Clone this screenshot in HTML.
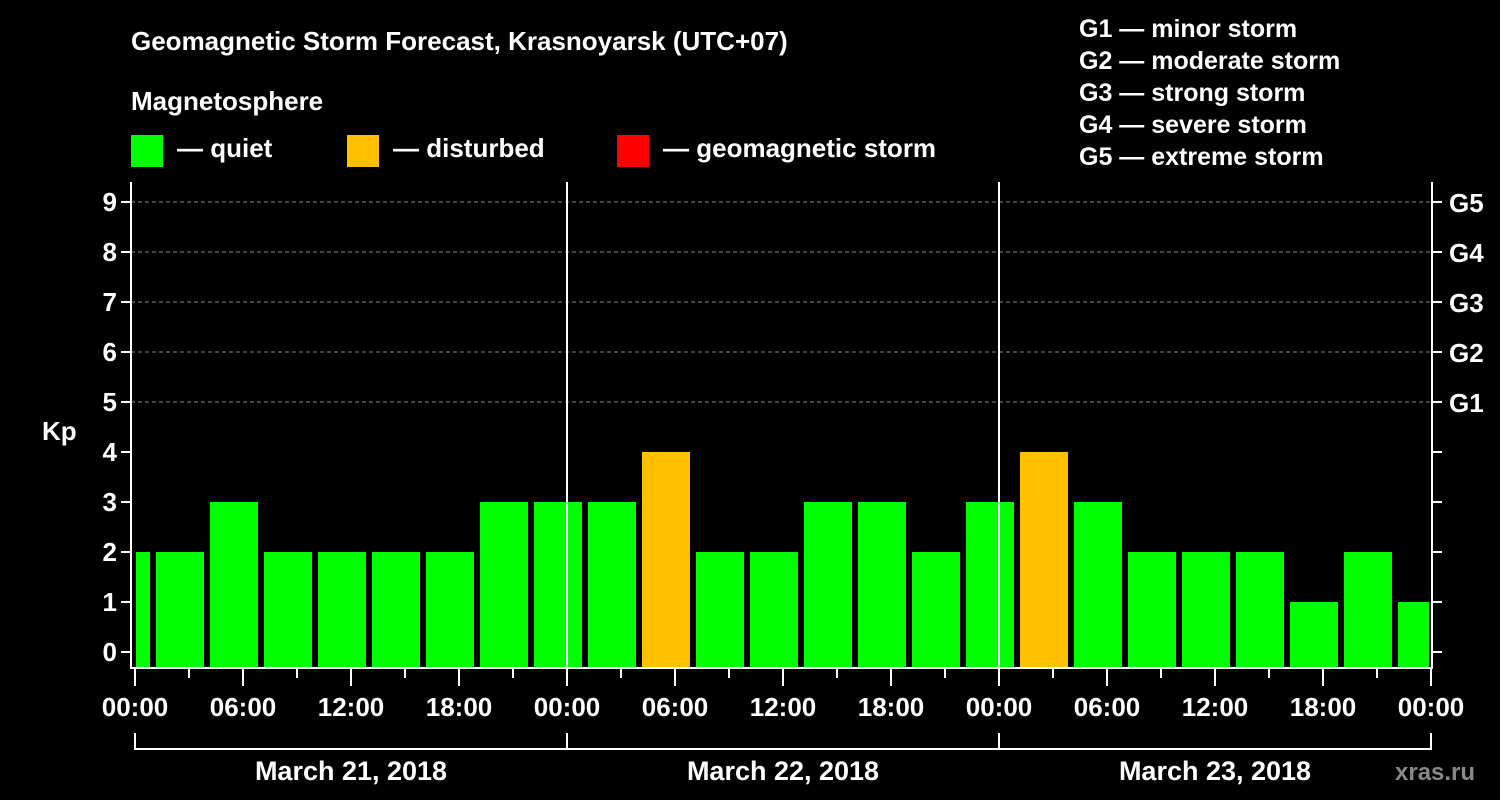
<!DOCTYPE html>
<html><head><meta charset="utf-8"><style>
body{margin:0;background:#000;width:1500px;height:800px;overflow:hidden}
svg{display:block;font-family:"Liberation Sans",Arial,sans-serif;font-weight:bold}
</style></head><body>
<svg id="c" width="1500" height="800" viewBox="0 0 1500 800">
<g fill="#fff" font-size="26">
<text x="131" y="50">Geomagnetic Storm Forecast, Krasnoyarsk (UTC+07)</text>
<text x="131" y="110">Magnetosphere</text>
<rect x="131" y="135" width="32" height="32" fill="#00ff00"/>
<text x="177" y="157">— quiet</text>
<rect x="347" y="135" width="32" height="32" fill="#ffc000"/>
<text x="393" y="157">— disturbed</text>
<rect x="617" y="135" width="32" height="32" fill="#ff0000"/>
<text x="663" y="157">— geomagnetic storm</text>
<g font-size="25">
<text x="1079" y="37">G1 — minor storm</text>
<text x="1079" y="69">G2 — moderate storm</text>
<text x="1079" y="101">G3 — strong storm</text>
<text x="1079" y="133">G4 — severe storm</text>
<text x="1079" y="165">G5 — extreme storm</text>
</g>
<text x="42" y="440">Kp</text>
<text x="1395" y="780" fill="#888" font-size="24">xras.ru</text>
</g>
<g id="plot"></g>
</svg>
<script>
const values=[2,2,3,2,2,2,2,3,3,3,4,2,2,3,3,2,3,4,3,2,2,2,1,2,1];
const yTicks=[0,1,2,3,4,5,6,7,8,9];
const gLabels=["G1","G2","G3","G4","G5"];
const xLabels=["00:00","06:00","12:00","18:00","00:00","06:00","12:00","18:00","00:00","06:00","12:00","18:00","00:00"];
const dates=["March 21, 2018","March 22, 2018","March 23, 2018"];
const NS="http://www.w3.org/2000/svg";
const g=document.getElementById('plot');
const X0=135,PXH=18,Y0=652,PXK=50,BOT=668,TOP=182,RIGHT=1432,LEFT=131;
const x=h=>X0+h*PXH, y=k=>Y0-k*PXK;
function mk(t,a,p){const e=document.createElementNS(NS,t);for(const k in a)e.setAttribute(k,a[k]);(p||g).appendChild(e);return e;}
// grid
for(let k=5;k<=9;k++){const l=mk('line',{x1:LEFT,x2:RIGHT,y1:y(k),y2:y(k),stroke:'#888','stroke-dasharray':'4,3','stroke-width':1});

}
// bars
values.forEach((v,i)=>{let s=-2+3*i,e=s+3;let x1=Math.max(x(s)+3,x(0)+1),x2=Math.min(x(e)-3,x(72)-2);
const r=mk('rect',{x:x1,y:y(v),width:x2-x1,height:BOT-1-y(v),fill:v>=5?'#ff0000':v>=4?'#ffc000':'#00ff00'});

});
// frame
const f=mk('path',{d:`M${LEFT} ${TOP}V${BOT}H${RIGHT}V${TOP}`,stroke:'#fff','stroke-width':2,fill:'none'});


[24,48].forEach(h=>{const l=mk('line',{x1:x(h),x2:x(h),y1:TOP,y2:BOT,stroke:'#fff','stroke-width':2});

});
// y ticks
yTicks.forEach(k=>{mk('line',{x1:LEFT-10,x2:LEFT,y1:y(k),y2:y(k),stroke:'#fff','stroke-width':2});
mk('line',{x1:RIGHT,x2:RIGHT+10,y1:y(k),y2:y(k),stroke:'#fff','stroke-width':2});
const t=mk('text',{x:LEFT-14,y:y(k)+9,fill:'#fff','font-size':26,'text-anchor':'end'});t.textContent=k;

});
gLabels.forEach((s,i)=>{const t=mk('text',{x:RIGHT+17,y:y(5+i)+10,fill:'#fff','font-size':26});t.textContent=s;

});
// x ticks
for(let h=0;h<=72;h+=3){mk('line',{x1:x(h),x2:x(h),y1:BOT,y2:h%6?BOT+10:BOT+18,stroke:'#fff','stroke-width':2});}
xLabels.forEach((s,i)=>{const t=mk('text',{x:x(i*6),y:716,fill:'#fff','font-size':26,'text-anchor':'middle'});t.textContent=s;

});
// date bracket
mk('line',{x1:x(0),x2:x(72),y1:749,y2:749,stroke:'#fff','stroke-width':2});
for(let d=0;d<=3;d++)mk('line',{x1:x(d*24),x2:x(d*24),y1:733,y2:750,stroke:'#fff','stroke-width':2});
dates.forEach((s,i)=>{const t=mk('text',{x:x(i*24+12),y:780,fill:'#fff','font-size':27,'text-anchor':'middle'});t.textContent=s;

});
</script>
</body></html>
